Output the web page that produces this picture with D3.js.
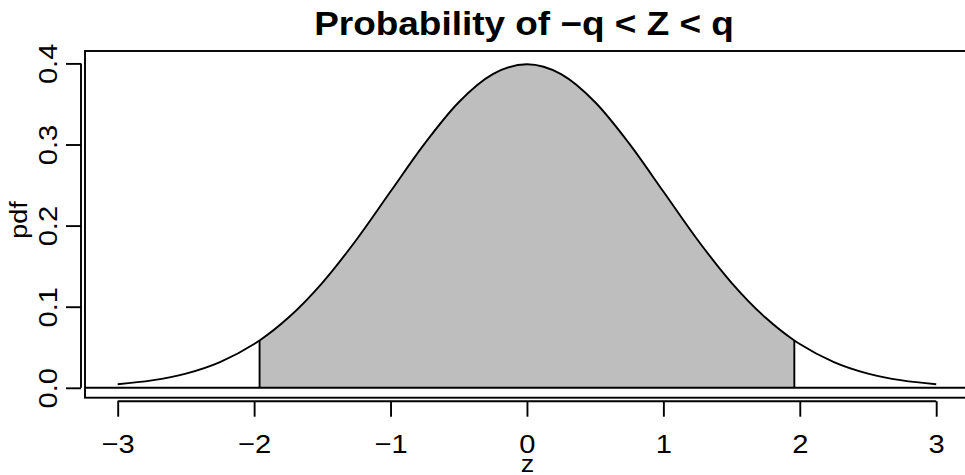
<!DOCTYPE html>
<html>
<head>
<meta charset="utf-8">
<script src="https://cdn.jsdelivr.net/npm/d3@7"></script>
<style>
  html, body { margin: 0; padding: 0; background: #ffffff; }
  svg { display: block; font-family: "Liberation Sans", Arial, Helvetica, sans-serif; }
</style>
</head>
<body>
<svg id="chart" width="965" height="475"></svg>
<script>
// Standard normal density, sampled along z
const zValues = [-3, -2.75, -2.5, -2.25, -2, -1.96, -1.75, -1.5, -1.25, -1, -0.75, -0.5, -0.25,
                 0, 0.25, 0.5, 0.75, 1, 1.25, 1.5, 1.75, 1.96, 2, 2.25, 2.5, 2.75, 3];
const pdfValues = [0.0044, 0.0091, 0.0175, 0.0317, 0.0540, 0.0584, 0.0863, 0.1295, 0.1826, 0.2420, 0.3011, 0.3521, 0.3867,
                   0.3989, 0.3867, 0.3521, 0.3011, 0.2420, 0.1826, 0.1295, 0.0863, 0.0584, 0.0540, 0.0317, 0.0175, 0.0091, 0.0044];
// Shaded interval -q < Z < q
const qLower = -1.96;
const qUpper = 1.96;
const xTicks = [-3, -2, -1, 0, 1, 2, 3];
const yTicks = [0.0, 0.1, 0.2, 0.3, 0.4];
const titleText = "Probability of \u2212q < Z < q";
const xLabel = "z";
const yLabel = "pdf";

const svg = d3.select("#chart");
const points = zValues.map((z, i) => ({ z, p: pdfValues[i] }));

const x = d3.scaleLinear().domain([-3, 3]).range([117.7, 936.2]);
const y = d3.scaleLinear().domain([0, 0.4]).range([387.8, 63.4]);

const plotLeft = 85, plotTop = 51, plotBottom = 397.7, plotRight = 985;
const lw = 1.9;
const wide = "scale(1.12,1)";

// shaded area between the two quantiles
const inside = points.filter(d => d.z >= qLower && d.z <= qUpper);
svg.append("path")
  .datum(inside)
  .attr("d", d3.area().x(d => x(d.z)).y0(y(0)).y1(d => y(d.p)).curve(d3.curveMonotoneX))
  .attr("fill", "#bebebe")
  .attr("stroke", "none");
// edges of the shaded region
[qLower, qUpper].forEach(q => {
  const d = inside.find(e => e.z === q);
  svg.append("line")
    .attr("x1", x(q)).attr("x2", x(q))
    .attr("y1", y(0)).attr("y2", y(d.p))
    .attr("stroke", "#000").attr("stroke-width", lw);
});

// density curve
svg.append("path")
  .datum(points)
  .attr("d", d3.line().x(d => x(d.z)).y(d => y(d.p)).curve(d3.curveMonotoneX))
  .attr("fill", "none")
  .attr("stroke", "#000")
  .attr("stroke-width", lw);

// horizontal reference line at zero
svg.append("line")
  .attr("x1", plotLeft).attr("x2", plotRight)
  .attr("y1", y(0)).attr("y2", y(0))
  .attr("stroke", "#000").attr("stroke-width", lw);

// plot frame
svg.append("rect")
  .attr("x", plotLeft).attr("y", plotTop)
  .attr("width", plotRight - plotLeft).attr("height", plotBottom - plotTop)
  .attr("fill", "none").attr("stroke", "#000").attr("stroke-width", lw);

// x axis
const xAxis = d3.axisBottom(x).tickValues(xTicks).tickSize(15.5).tickPadding(18)
  .tickFormat(d => d < 0 ? "\u2212" + Math.abs(d) : String(d));
const gx = svg.append("g").attr("transform", "translate(0,401.2)").call(xAxis);
gx.select(".domain").attr("d", `M${x(-3)},0H${x(3)}`).attr("stroke-width", lw);
gx.selectAll(".tick line").attr("stroke-width", lw);
gx.selectAll(".tick text")
  .attr("font-size", 26).attr("fill", "#000")
  .attr("font-family", "Liberation Sans, Arial, sans-serif")
  .attr("transform", wide);

// y axis
const yAxis = d3.axisLeft(y).tickValues(yTicks).tickSize(15).tickFormat(d3.format(".1f"));
const gy = svg.append("g").attr("transform", "translate(81,0)").call(yAxis);
gy.select(".domain").attr("d", `M0,${y(0)}V${y(0.4)}`).attr("stroke-width", lw);
gy.selectAll(".tick line").attr("stroke-width", lw);
gy.selectAll(".tick text")
  .attr("font-size", 26).attr("fill", "#000")
  .attr("font-family", "Liberation Sans, Arial, sans-serif")
  .attr("x", null).attr("dy", null)
  .attr("text-anchor", "middle")
  .attr("transform", "translate(-24.5,0) rotate(-90) " + wide);

// title and axis labels
svg.append("text")
  .attr("transform", "translate(524,35) " + wide)
  .attr("text-anchor", "middle")
  .attr("font-size", 33).attr("font-weight", "bold")
  .text(titleText);

svg.append("text")
  .attr("transform", "translate(527.5,472) " + wide)
  .attr("text-anchor", "middle")
  .attr("font-size", 24)
  .text(xLabel);

svg.append("text")
  .attr("transform", "translate(27,220) rotate(-90) " + wide)
  .attr("text-anchor", "middle")
  .attr("font-size", 24)
  .text(yLabel);
</script>
</body>
</html>
